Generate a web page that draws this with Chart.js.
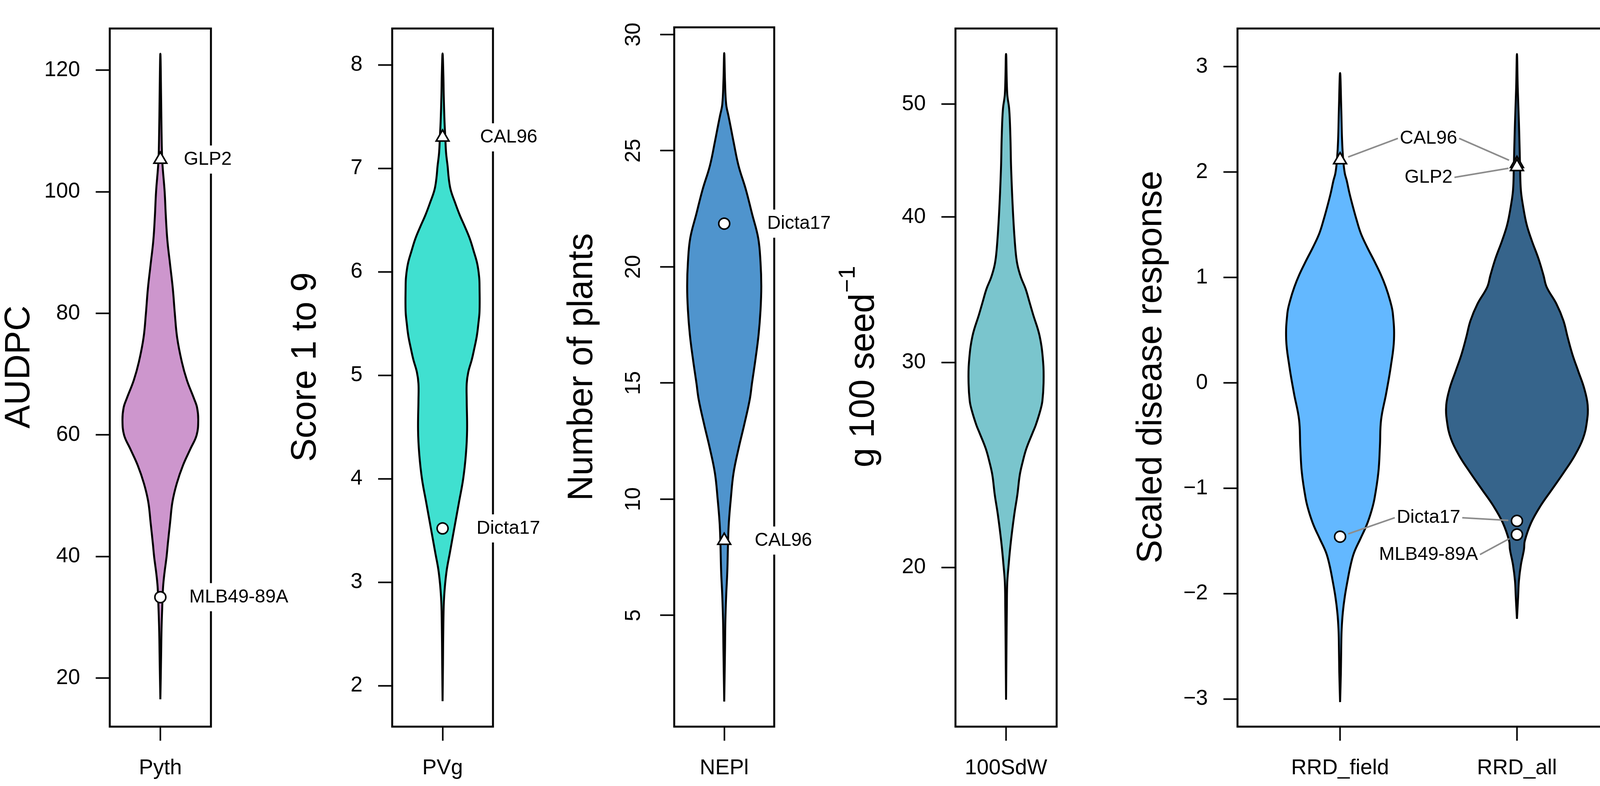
<!DOCTYPE html>
<html>
<head>
<meta charset="utf-8">
<title>Violin plots</title>
<script src="https://cdn.jsdelivr.net/npm/chart.js@4.4.1/dist/chart.umd.min.js"></script>
<style>
    html, body { margin: 0; padding: 0; background: #fff; }
    #wrap { position: relative; width: 4157px; height: 2013px; }
    #wrap canvas { position: absolute; left: 0; top: 0; }
</style>
</head>
<body>
<div id="wrap">
    <canvas id="pyth" width="4157" height="2013"></canvas>
    <canvas id="pvg" width="4157" height="2013"></canvas>
    <canvas id="nepl" width="4157" height="2013"></canvas>
    <canvas id="sdw" width="4157" height="2013"></canvas>
    <canvas id="rrd" width="4157" height="2013"></canvas>
</div>
<script>
// ---- values ----
// violin outlines: level on the y axis and half width of the density at that level

// Pyth (AUDPC)
const pythY = [16.5, 20, 24, 28, 32, 35, 37, 40, 42, 45.6, 49, 52, 55, 57.7, 60, 62.5, 64.5, 66, 69, 72, 76, 80, 84, 88, 92, 96, 100, 105, 110, 115, 122.7];
const pythW = [0, 1, 2, 3, 5, 7, 10, 16, 19, 25, 31, 42, 58, 77, 93, 97, 94, 86, 68, 55, 43, 37, 32, 25, 18, 14, 11, 5, 3, 2, 0];
const pythTicks = [20, 40, 60, 80, 100, 120];
const pythMarkNames = ['GLP2', 'MLB49-89A'];
const pythMarkY = [105.3, 33.3];

// PVg (score 1 to 9)
const pvgY = [1.85, 2.2, 2.6, 2.86, 3.1, 3.29, 3.52, 3.77, 4.0, 4.24, 4.47, 4.76, 4.92, 5.03, 5.15, 5.25, 5.38, 5.5, 5.62, 5.85, 5.95, 6.08, 6.2, 6.32, 6.43, 6.55, 6.67, 6.79, 6.9, 7.02, 7.15, 7.3, 7.45, 7.7, 7.9, 8.11];
const pvgW = [0, 1, 2, 4, 10, 19, 30, 42, 53, 60, 63, 62, 62, 66, 75, 81, 88, 92, 95, 95, 94, 89, 80, 70, 58, 44, 32, 21, 16, 13, 9, 7, 5, 3, 2, 0];
const pvgTicks = [2, 3, 4, 5, 6, 7, 8];
const pvgMarkNames = ['CAL96', 'Dicta17'];
const pvgMarkY = [7.30, 3.52];

// NEPl (number of plants)
const neplY = [1.29, 3.5, 4.79, 5.83, 6.9, 8.2, 9.0, 10.0, 11.11, 12.17, 13.22, 14.28, 15.0, 16.03, 17.08, 18.13, 19.17, 20.2, 21.24, 22.29, 23.33, 24.36, 25.4, 26.0, 26.5, 27.0, 28.0, 29.2];
const neplW = [0, 2, 3, 5, 8, 10, 12, 17, 24, 37, 52, 66, 72, 81, 89, 94, 96, 94, 88, 72, 56, 37, 24, 17, 11, 5, 2, 0];
const neplTicks = [5, 10, 15, 20, 25, 30];
const neplMarkNames = ['Dicta17', 'CAL96'];
const neplMarkY = [21.86, 8.22];

// 100SdW (g 100 seed-1, log axis)
const sdwY = [15.4, 17, 18.5, 19.4, 20.0, 21.0, 22.2, 23.1, 24.0, 24.6, 25.3, 26.1, 26.5, 27.3, 27.8, 28.8, 30.0, 31.6, 33.0, 33.8, 34.7, 35.5, 36.4, 37.5, 40.2, 44.0, 47.0, 49.5, 51.0, 55.2];
const sdwW = [0, 1, 2, 3, 6, 12, 21, 29, 35, 42, 52, 68, 76, 88, 93, 96, 95, 86, 69, 60, 50, 38, 29, 24, 18, 13, 11, 8, 3, 0];
const sdwTicks = [20, 30, 40, 50];

// RRD (scaled disease response)
const rrdCats = ['RRD_field', 'RRD_all'];
const fieldY = [-3.03, -2.75, -2.49, -2.34, -2.18, -2.03, -1.88, -1.73, -1.61, -1.48, -1.35, -1.22, -1.10, -0.85, -0.60, -0.35, -0.10, 0.16, 0.41, 0.66, 0.78, 0.91, 1.03, 1.16, 1.29, 1.42, 1.55, 1.67, 1.80, 1.92, 1.99, 2.115, 2.31, 2.6, 2.94];
const fieldW = [0, 2, 3, 4, 7, 12, 19, 27, 36, 52, 68, 80, 88, 98, 102, 105, 118, 130, 138, 135, 128, 117, 104, 87, 69, 53, 42, 33, 24, 17, 12, 8, 5, 3, 0];
const allY = [-2.24, -2.03, -1.88, -1.73, -1.58, -1.50, -1.33, -1.17, -1.01, -0.85, -0.69, -0.53, -0.37, -0.21, -0.05, 0.11, 0.27, 0.43, 0.59, 0.75, 0.91, 1.02, 1.18, 1.35, 1.50, 1.67, 1.83, 2.05, 2.2, 2.47, 2.8, 3.12];
const allW = [0, 3, 5, 10, 18, 20, 36, 60, 90, 120, 148, 169, 179, 181, 172, 157, 142, 130, 119, 101, 76, 68, 55, 38, 25, 16, 10, 8, 7, 5, 2, 0];
const rrdTicks = [-3, -2, -1, 0, 1, 2, 3];
const fieldMarkNames = ['CAL96', 'Dicta17'];
const fieldMarkY = [2.115, -1.46];
const allMarkNames = ['CAL96', 'GLP2', 'Dicta17', 'MLB49-89A'];
const allMarkY = [2.08, 2.05, -1.31, -1.44];
// callout labels in the last panel (centred between the two violins)
const calloutNames = ['CAL96', 'GLP2', 'Dicta17', 'MLB49-89A'];
const calloutY = [2.32, 1.95, -1.28, -1.63];


// ---- look ----
const FONT = "'Liberation Sans', Arial, Helvetica, sans-serif";
const SHAPE = { 'GLP2': 'triangle', 'CAL96': 'triangle', 'Dicta17': 'circle', 'MLB49-89A': 'circle' };
const W = 4157, H = 2013;
const TOP = 19, BOTTOM = 1861;
const Y_AXIS_W = 250, X_AXIS_H = 150;

function minusFmt(v) {
    return v < 0 ? '\u2212' + Math.abs(v) : String(v);
}

// closed outline: up the right side, back down the left side
function violinPoints(center, ys, ws, scale) {
    const pts = [];
    for (let i = 0; i < ys.length; i++) {
        pts.push({ x: center + ws[i] * scale, y: ys[i] });
    }
    for (let i = ys.length - 2; i >= 0; i--) {
        pts.push({ x: center - ws[i] * scale, y: ys[i] });
    }
    return pts;
}

function drawVTitle(ctx, text, sup, xBase, yCenter) {
    ctx.save();
    ctx.translate(xBase, yCenter);
    ctx.rotate(-Math.PI / 2);
    ctx.fillStyle = '#000';
    ctx.textAlign = 'left';
    ctx.textBaseline = 'alphabetic';
    ctx.font = '90px ' + FONT;
    const w1 = ctx.measureText(text).width;
    let w2 = 0;
    if (sup) {
        ctx.font = '60px ' + FONT;
        w2 = ctx.measureText(sup).width;
    }
    const start = -(w1 + w2) / 2;
    ctx.font = '90px ' + FONT;
    ctx.fillText(text, start, 0);
    if (sup) {
        ctx.font = '60px ' + FONT;
        ctx.fillText(sup, start + w1 + 2, -49);
    }
    ctx.restore();
}

// frame, y title and the genotype labels
const panelDecor = {
    id: 'panelDecor',
    afterDraw(chart, args, opts) {
        const { ctx, chartArea: a } = chart;
        const xs = chart.scales.x, ys = chart.scales.y;
        ctx.save();
        ctx.lineWidth = 5;
        ctx.strokeStyle = '#000';
        ctx.strokeRect(a.left, a.top, a.right - a.left, a.bottom - a.top);

        ctx.font = '48px ' + FONT;
        ctx.textBaseline = 'middle';

        // boxed labels to the right of a single violin
        (opts.boxed || []).forEach(b => {
            const x = xs.getPixelForValue(b.x) + b.dx;
            const y = ys.getPixelForValue(b.y);
            const w = ctx.measureText(b.name).width;
            ctx.fillStyle = '#fff';
            ctx.fillRect(x - 9, y - 36, w + 18, 72);
            ctx.fillStyle = '#000';
            ctx.textAlign = 'left';
            ctx.fillText(b.name, x, y);
        });

        // callouts with grey leader lines
        (opts.callouts || []).forEach(c => {
            const x = xs.getPixelForValue(c.x);
            const y = ys.getPixelForValue(c.y);
            const w = ctx.measureText(c.name).width;
            ctx.fillStyle = '#000';
            ctx.textAlign = 'center';
            ctx.fillText(c.name, x, y);
            ctx.strokeStyle = '#8c8c8c';
            ctx.lineWidth = 4;
            c.targets.forEach(t => {
                const tx = xs.getPixelForValue(t.x);
                const ty = ys.getPixelForValue(t.y);
                const sx = tx < x ? x - w / 2 - 5 : x + w / 2 + 5;
                const dx = tx - sx, dy = ty - y;
                const len = Math.sqrt(dx * dx + dy * dy);
                const k = (len - 22) / len;
                ctx.beginPath();
                ctx.moveTo(sx, y);
                ctx.lineTo(sx + dx * k, y + dy * k);
                ctx.stroke();
            });
        });

        drawVTitle(ctx, opts.title, opts.sup, opts.titleX, (TOP + BOTTOM) / 2);
        ctx.restore();
    }
};

function markerSet(x, names, values) {
    return {
        data: values.map(v => ({ x: x, y: v })),
        pointStyle: names.map(n => SHAPE[n]),
        pointRadius: names.map(n => SHAPE[n] === 'triangle' ? 19 : 14),
        pointBackgroundColor: '#fff',
        pointBorderColor: '#000',
        pointBorderWidth: 4,
        showLine: false
    };
}

function violinSet(x, ys, ws, scale, color) {
    return {
        data: violinPoints(x, ys, ws, scale),
        showLine: true,
        fill: 'shape',
        backgroundColor: color,
        borderColor: '#000',
        borderWidth: 5,
        pointRadius: 0,
        tension: 0.4
    };
}

function tickFont() {
    return { size: 55, family: FONT };
}

function makePanel(p) {
    return new Chart(document.getElementById(p.id), {
        type: 'scatter',
        data: { datasets: p.datasets },
        options: {
            responsive: false,
            animation: false,
            devicePixelRatio: 1,
            events: [],
            layout: {
                autoPadding: false,
                padding: { left: p.left - Y_AXIS_W, right: W - p.right, top: TOP, bottom: H - BOTTOM - X_AXIS_H }
            },
            plugins: {
                legend: { display: false },
                tooltip: { enabled: false },
                panelDecor: p.decor
            },
            scales: {
                x: {
                    type: 'linear',
                    min: p.xMin,
                    max: p.xMax,
                    bounds: 'data',
                    afterBuildTicks: s => { s.ticks = p.catX.map(v => ({ value: v })); },
                    afterFit: s => { s.height = X_AXIS_H; },
                    ticks: {
                        callback: (v, i) => p.cats[i],
                        font: tickFont(),
                        color: '#000',
                        padding: 38,
                        autoSkip: false,
                        minRotation: 0,
                        maxRotation: 0
                    },
                    grid: { drawOnChartArea: false, drawTicks: true, tickLength: 36, tickWidth: 4, tickColor: '#000' },
                    border: { display: false }
                },
                y: {
                    type: p.log ? 'logarithmic' : 'linear',
                    min: p.yMin,
                    max: p.yMax,
                    bounds: 'data',
                    afterBuildTicks: s => { s.ticks = p.yTicks.map(v => ({ value: v })); },
                    afterFit: s => { s.width = Y_AXIS_W; },
                    ticks: Object.assign({
                        callback: v => minusFmt(v),
                        font: tickFont(),
                        color: '#000',
                        padding: 40,
                        autoSkip: false
                    }, p.yTickExtra || {}),
                    grid: { drawOnChartArea: false, drawTicks: true, tickLength: 36, tickWidth: 4, tickColor: '#000' },
                    border: { display: false }
                }
            }
        },
        plugins: [panelDecor]
    });
}

const SINGLE = 1 / 259;     // half-width units -> x units in the narrow panels
const DOUBLE = 1 / 452.8;   // same for the two-violin panel

makePanel({
    id: 'pyth', left: 281, right: 540, xMin: 0.5, xMax: 1.5, catX: [1], cats: ['Pyth'],
    yMin: 12.0, yMax: 126.86, yTicks: pythTicks,
    datasets: [markerSet(1, pythMarkNames, pythMarkY), violinSet(1, pythY, pythW, SINGLE, '#CD96CD')],
    decor: {
        title: 'AUDPC', titleX: 75,
        boxed: [
            { name: pythMarkNames[0], x: 1, y: pythMarkY[0], dx: 60 },
            { name: pythMarkNames[1], x: 1, y: pythMarkY[1], dx: 74 }
        ]
    }
});

makePanel({
    id: 'pvg', left: 1004, right: 1262, xMin: 0.5, xMax: 1.5, catX: [1], cats: ['PVg'],
    yMin: 1.604, yMax: 8.352, yTicks: pvgTicks,
    datasets: [markerSet(1, pvgMarkNames, pvgMarkY), violinSet(1, pvgY, pvgW, SINGLE, '#40E0D0')],
    decor: {
        title: 'Score 1 to 9', titleX: 808,
        boxed: [
            { name: pvgMarkNames[0], x: 1, y: pvgMarkY[0], dx: 96 },
            { name: pvgMarkNames[1], x: 1, y: pvgMarkY[1], dx: 87 }
        ]
    }
});

makePanel({
    id: 'nepl', left: 1726, right: 1982, xMin: 0.5, xMax: 1.5, catX: [1], cats: ['NEPl'],
    yMin: 0.21, yMax: 30.31, yTicks: neplTicks,
    yTickExtra: { minRotation: 90, maxRotation: 90, crossAlign: 'center', padding: 37 },
    datasets: [markerSet(1, neplMarkNames, neplMarkY), violinSet(1, neplY, neplW, SINGLE, '#4F94CD')],
    decor: {
        title: 'Number of plants', titleX: 1516,
        boxed: [
            { name: neplMarkNames[0], x: 1, y: neplMarkY[0], dx: 110 },
            { name: neplMarkNames[1], x: 1, y: neplMarkY[1], dx: 78 }
        ]
    }
});

makePanel({
    id: 'sdw', left: 2446, right: 2705, xMin: 0.5, xMax: 1.5, catX: [1], cats: ['100SdW'],
    log: true, yMin: 14.6, yMax: 58.05, yTicks: sdwTicks,
    datasets: [violinSet(1, sdwY, sdwW, SINGLE, '#7AC5CD')],
    decor: { title: 'g 100 seed', sup: '\u22121', titleX: 2237 }
});

const rrdMarks = [
    { x: 1, names: fieldMarkNames, ys: fieldMarkY },
    { x: 2, names: allMarkNames, ys: allMarkY }
];
const callouts = calloutNames.map((name, i) => {
    const targets = [];
    rrdMarks.forEach(m => {
        m.names.forEach((n, j) => { if (n === name) targets.push({ x: m.x, y: m.ys[j] }); });
    });
    return { name: name, x: 1.5, y: calloutY[i], targets: targets };
});

makePanel({
    id: 'rrd', left: 3168, right: 4146, xMin: 0.42, xMax: 2.58, catX: [1, 2], cats: rrdCats,
    yMin: -3.263, yMax: 3.363, yTicks: rrdTicks,
    datasets: [
        markerSet(1, fieldMarkNames, fieldMarkY),
        markerSet(2, allMarkNames, allMarkY),
        violinSet(1, fieldY, fieldW, DOUBLE, '#63B8FF'),
        violinSet(2, allY, allW, DOUBLE, '#36648B')
    ],
    decor: { title: 'Scaled disease response', titleX: 2973, callouts: callouts }
});
</script>
</body>
</html>
